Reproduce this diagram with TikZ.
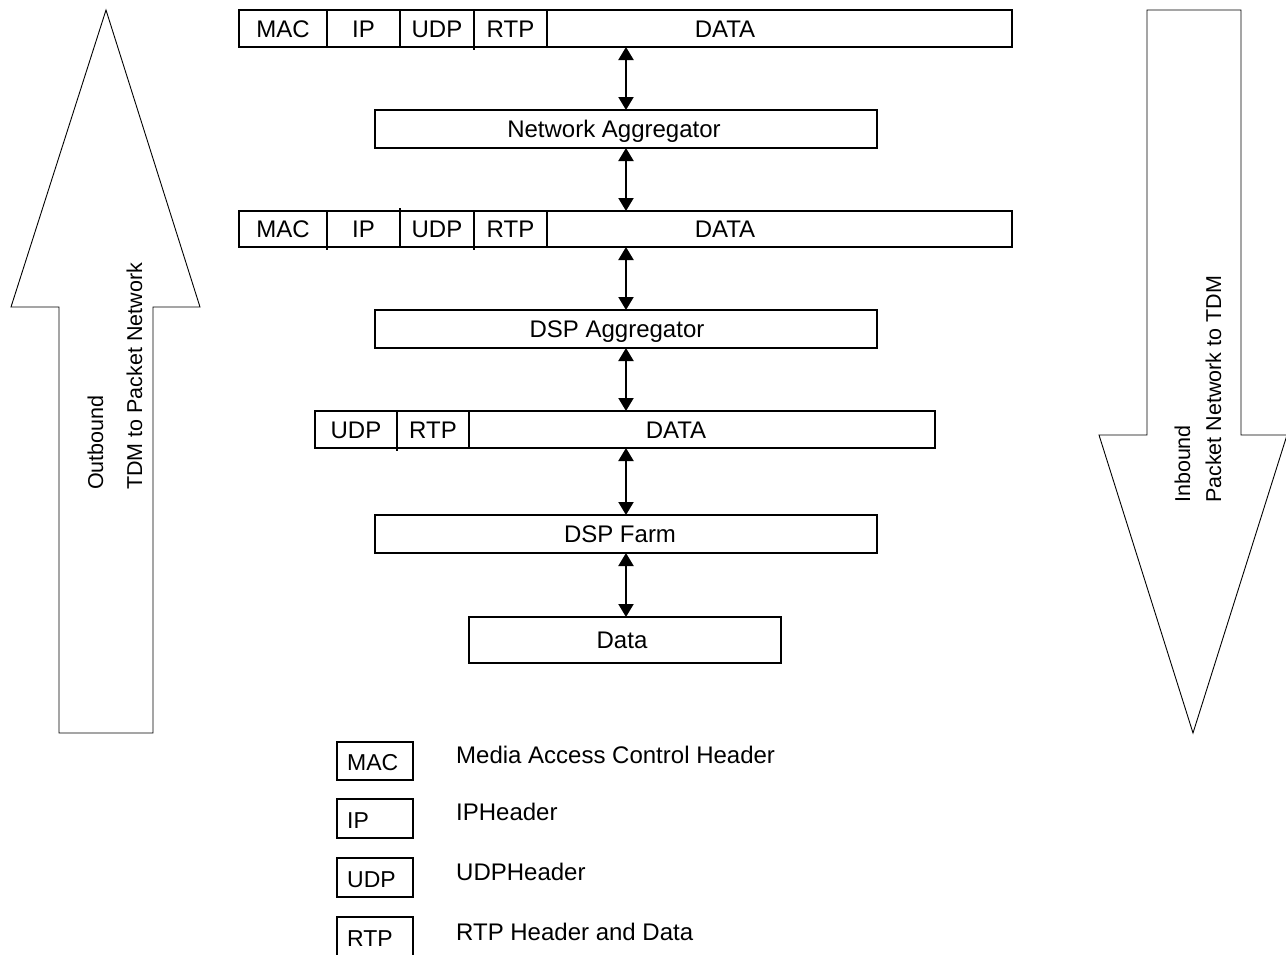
\documentclass[tikz,border=0pt]{standalone}
\usepackage{fontspec}
\setmainfont{Liberation Sans}
\usetikzlibrary{arrows.meta}
\begin{document}
\begin{tikzpicture}[x=1pt,y=-1pt,
  cell/.style={draw, line width=1.6pt, rectangle, inner sep=0pt, outer sep=0pt, anchor=north west, text height=17pt, text depth=0pt, font=\fontsize{24}{28}\selectfont},
  txt/.style={anchor=base, inner sep=0pt, font=\fontsize{24}{28}\selectfont},
  ltxt/.style={anchor=base west, inner sep=0pt, font=\fontsize{23}{27}\selectfont},
  dtxt/.style={anchor=base west, inner sep=0pt, font=\fontsize{24}{28}\selectfont},
  vtxt/.style={anchor=base west, rotate=90, inner sep=0pt, font=\fontsize{21.5}{25}\selectfont},
  link/.style={line width=2pt, {Triangle[width=15pt,length=13pt]}-{Triangle[width=15pt,length=13pt]}},
  bigarrow/.style={draw, line width=0.9pt, line join=miter}
]
\useasboundingbox (0,0) rectangle (1286,954);
\clip (0,0) rectangle (1286,954);

% big arrows
\draw[bigarrow] (106,10) -- (200,307) -- (153,307) -- (153,733) -- (59,733) -- (59,307) -- (11,307) -- cycle;
\draw[bigarrow] (1147,10) -- (1241,10) -- (1241,435) -- (1287,435) -- (1193,733) -- (1099,435) -- (1147,435) -- cycle;
\node[vtxt] (out1) at (103,490) {Outbound};
\node[vtxt] (out2) at (142,490) {TDM to Packet Network};
\node[vtxt] (in1) at (1190,503) {Inbound};
\node[vtxt] (in2) at (1221,503) {Packet Network to TDM};

% bar 1
\node[cell, minimum width=88pt, minimum height=37pt] (a1) at (239,10) {MAC};
\node[cell, minimum width=73pt, minimum height=37pt] (a2) at (327,10) {IP};
\node[cell, minimum width=74pt, minimum height=37pt] (a3) at (400,10) {UDP};
\node[cell, minimum width=73pt, minimum height=37pt] (a4) at (474,10) {RTP};
\node[cell, minimum width=465pt, minimum height=37pt] (a5) at (547,10) {};
\node[txt] (a5t) at (725,37) {DATA};
\draw[line width=1.6pt] (a4.south west) -- ++(0,3);

% network aggregator
\node[cell, minimum width=502pt, minimum height=38pt] (net) at (375,110) {};
\node[txt] (nett) at (614,137.5) {Network Aggregator};

% bar 2
\node[cell, minimum width=88pt, minimum height=36pt] (b1) at (239,211) {MAC};
\node[cell, minimum width=73pt, minimum height=36pt] (b2) at (327,211) {IP};
\node[cell, minimum width=74pt, minimum height=36pt] (b3) at (400,211) {UDP};
\node[cell, minimum width=73pt, minimum height=36pt] (b4) at (474,211) {RTP};
\node[cell, minimum width=465pt, minimum height=36pt] (b5) at (547,211) {};
\node[txt] (b5t) at (725,237.5) {DATA};
\draw[line width=1.6pt] (b3.north west) -- ++(0,-3);
\draw[line width=1.6pt] (b2.south west) -- ++(0,2.5);
\draw[line width=1.6pt] (b4.south west) -- ++(0,2.5);

% DSP aggregator
\node[cell, minimum width=502pt, minimum height=38pt] (dagg) at (375,310) {};
\node[txt] (daggt) at (617,337.5) {DSP Aggregator};

% bar 3
\node[cell, minimum width=82pt, minimum height=37pt] (c1) at (315,411) {UDP};
\node[cell, minimum width=72pt, minimum height=37pt] (c2) at (397,411) {RTP};
\node[cell, minimum width=466pt, minimum height=37pt] (c3) at (469,411) {};
\node[txt] (c3t) at (676,438) {DATA};
\draw[line width=1.6pt] (c2.south west) -- ++(0,2.5);

% DSP farm
\node[cell, minimum width=502pt, minimum height=38pt] (farm) at (375,515) {};
\node[txt] (farmt) at (620,542.5) {DSP Farm};

% Data
\node[cell, minimum width=312pt, minimum height=46pt] (dat) at (469,617) {};
\node[txt] (datt) at (622,648.5) {Data};

% connectors
\coordinate (ax) at (626,0);
\draw[link] (a5.south -| ax) -- (net.north -| ax);
\draw[link] (net.south -| ax) -- (b5.north -| ax);
\draw[link] (b5.south -| ax) -- (dagg.north -| ax);
\draw[link] (dagg.south -| ax) -- (c3.north -| ax);
\draw[link] (c3.south -| ax) -- (farm.north -| ax);
\draw[link] (farm.south -| ax) -- (dat.north -| ax);

% legend
\node[cell, minimum width=76pt, minimum height=38pt] (lmac) at (337,742) {};
\node[cell, minimum width=76pt, minimum height=39pt] (lip) at (337,799) {};
\node[cell, minimum width=76pt, minimum height=39pt] (ludp) at (337,858) {};
\node[cell, minimum width=76pt, minimum height=60pt] (lrtp) at (337,917) {};
\node[ltxt] (lmact) at (347,770) {MAC};
\node[ltxt] (lipt) at (347,828) {IP};
\node[ltxt] (ludpt) at (347,887) {UDP};
\node[ltxt] (lrtpt) at (347,946) {RTP};
\node[dtxt] (dmac) at (456,763) {Media Access Control Header};
\node[dtxt] (dip) at (456,820) {IPHeader};
\node[dtxt] (dudp) at (456,880) {UDPHeader};
\node[dtxt] (drtp) at (456,940) {RTP Header and Data};
\end{tikzpicture}
\end{document}
